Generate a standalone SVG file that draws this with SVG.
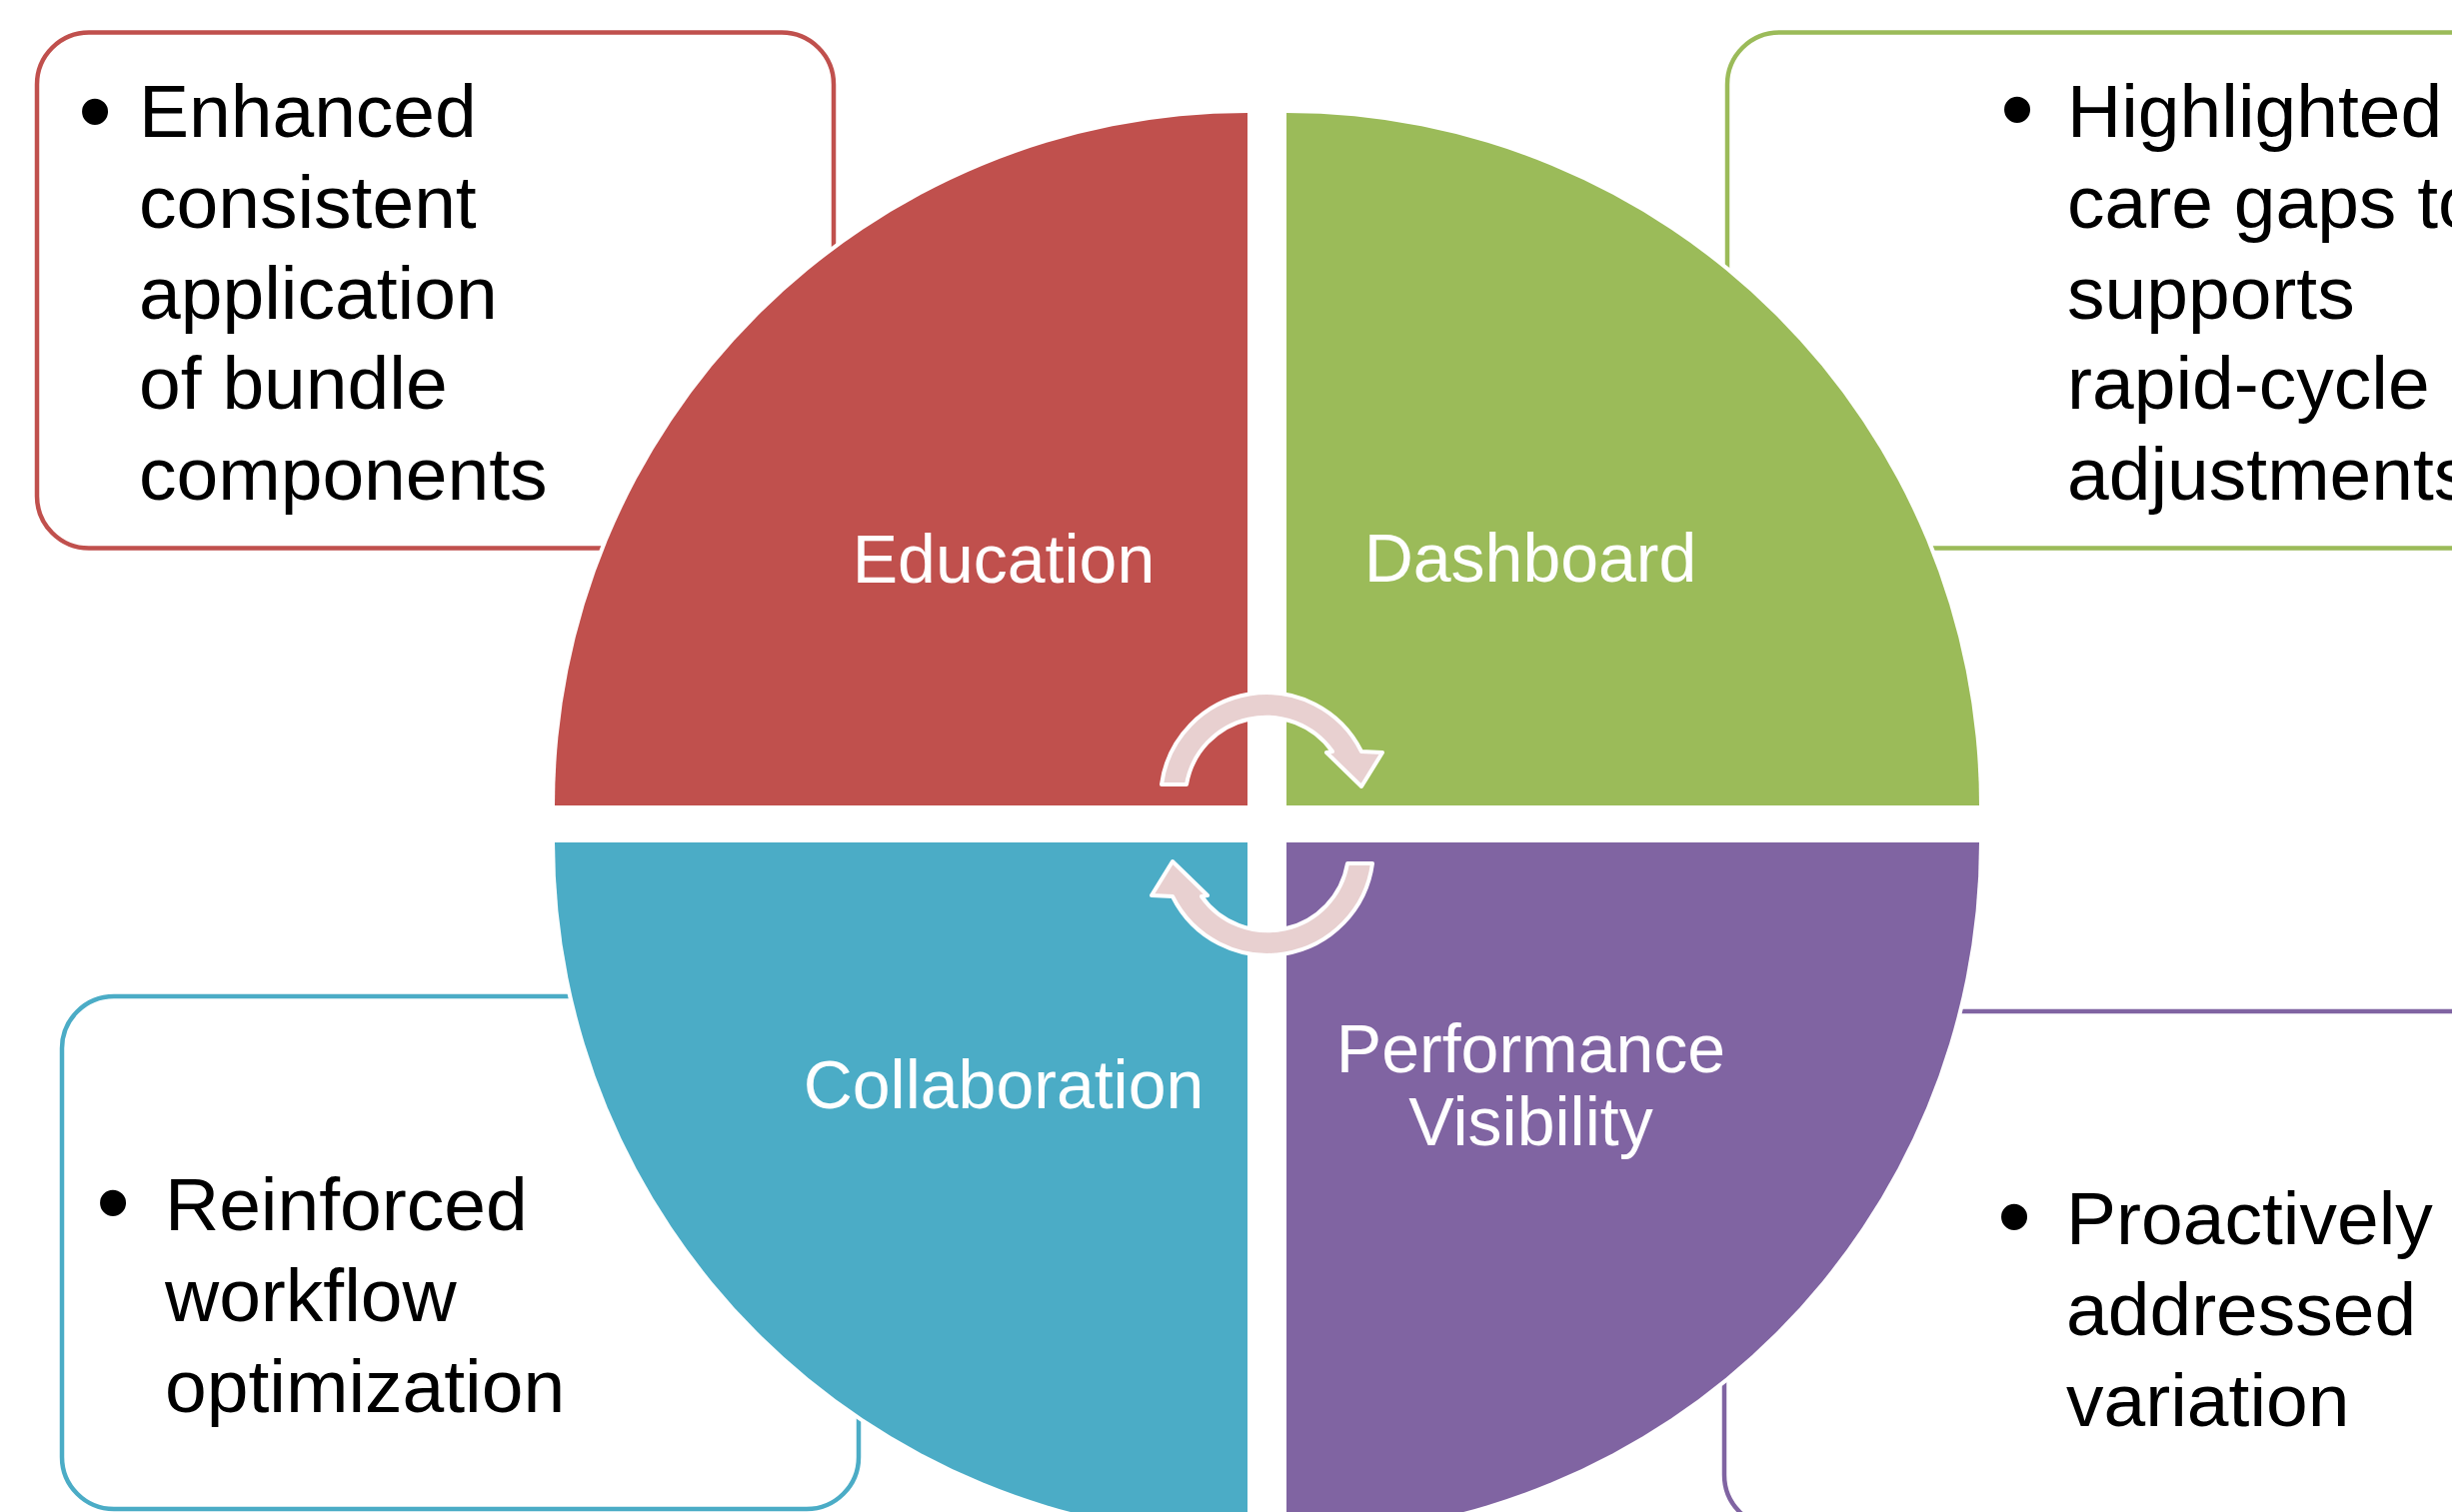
<svg xmlns="http://www.w3.org/2000/svg" width="2453" height="1513" viewBox="0 0 2453 1513">
<style>
.box{fill:#FFFFFF;stroke-width:4.5}
.quad{stroke:#FFFFFF;stroke-width:8;paint-order:stroke;stroke-linejoin:miter}
.lbl{font-family:"Liberation Sans",Arial,sans-serif;font-size:68px;fill:#FFFFFF;text-anchor:middle}
.txt{font-family:"Liberation Sans",Arial,sans-serif;font-size:75px;fill:#000000}
.bul{font-family:"Liberation Sans",Arial,sans-serif;font-size:96px;fill:#000000;text-anchor:middle}
.arr{fill:#E8D0D0;stroke:#FFFFFF;stroke-width:4;stroke-linejoin:round}
</style>
<rect x="0" y="0" width="2453" height="1513" fill="#FFFFFF"/>

<g id="box-education">
<rect class="box" x="37" y="32.5" width="797" height="516" rx="52" ry="52" stroke="#C0504D"/>
<text class="bul" x="95" y="144">•</text>
<text class="txt" x="139" y="137">Enhanced</text>
<text class="txt" x="139" y="228">consistent</text>
<text class="txt" x="139" y="318.5">application</text>
<text class="txt" x="139" y="409">of bundle</text>
<text class="txt" x="139" y="499.5">components</text>
</g>

<g id="box-dashboard">
<rect class="box" x="1728" y="32.5" width="797" height="516" rx="52" ry="52" stroke="#9BBB59"/>
<text class="bul" x="2018" y="142">•</text>
<text class="txt" x="2068" y="137">Highlighted</text>
<text class="txt" x="2068" y="228">care gaps to</text>
<text class="txt" x="2068" y="318.5">supports</text>
<text class="txt" x="2068" y="409">rapid-cycle</text>
<text class="txt" x="2068" y="499.5">adjustments</text>
</g>

<g id="box-collaboration">
<rect class="box" x="62" y="997" width="797" height="513" rx="52" ry="52" stroke="#4BACC6"/>
<text class="bul" x="113" y="1236">•</text>
<text class="txt" x="165" y="1231">Reinforced</text>
<text class="txt" x="165" y="1322">workflow</text>
<text class="txt" x="165" y="1412.5">optimization</text>
</g>

<g id="box-performance">
<rect class="box" x="1725" y="1012" width="797" height="516" rx="52" ry="52" stroke="#8064A2"/>
<text class="bul" x="2015" y="1250">•</text>
<text class="txt" x="2067" y="1245">Proactively</text>
<text class="txt" x="2067" y="1336">addressed</text>
<text class="txt" x="2067" y="1427">variation</text>
</g>

<g id="node-education">
<path class="quad" fill="#C0504D" d="M1248 806 L555 806 A693 693 0 0 1 1248 113 Z"/>
<text class="lbl" x="1004" y="582.5">Education</text>
</g>
<g id="node-dashboard">
<path class="quad" fill="#9BBB59" d="M1287 806 L1287 113 A693 693 0 0 1 1980 806 Z"/>
<text class="lbl" x="1531" y="582">Dashboard</text>
</g>
<g id="node-collaboration">
<path class="quad" fill="#4BACC6" d="M1248 843 L1248 1536 A693 693 0 0 1 555 843 Z"/>
<text class="lbl" x="1004" y="1108.5">Collaboration</text>
</g>
<g id="node-performance">
<path class="quad" fill="#8064A2" d="M1287 843 L1980 843 A693 693 0 0 1 1287 1536 Z"/>
<text class="lbl" x="1531.5" y="1072.5">Performance</text>
<text class="lbl" x="1531.5" y="1146">Visibility</text>
</g>

<g id="connectors">
<path id="arrow-top" class="arr" d="M1162 785 A106 106 0 0 1 1362 752 L1383 753 L1362 787 L1327 753 L1333 752 A81 81 0 0 0 1187 785 Z"/>
<path id="arrow-bottom" class="arr" transform="rotate(180 1267.5 824.5)" d="M1162 785 A106 106 0 0 1 1362 752 L1383 753 L1362 787 L1327 753 L1333 752 A81 81 0 0 0 1187 785 Z"/>
</g>
</svg>
